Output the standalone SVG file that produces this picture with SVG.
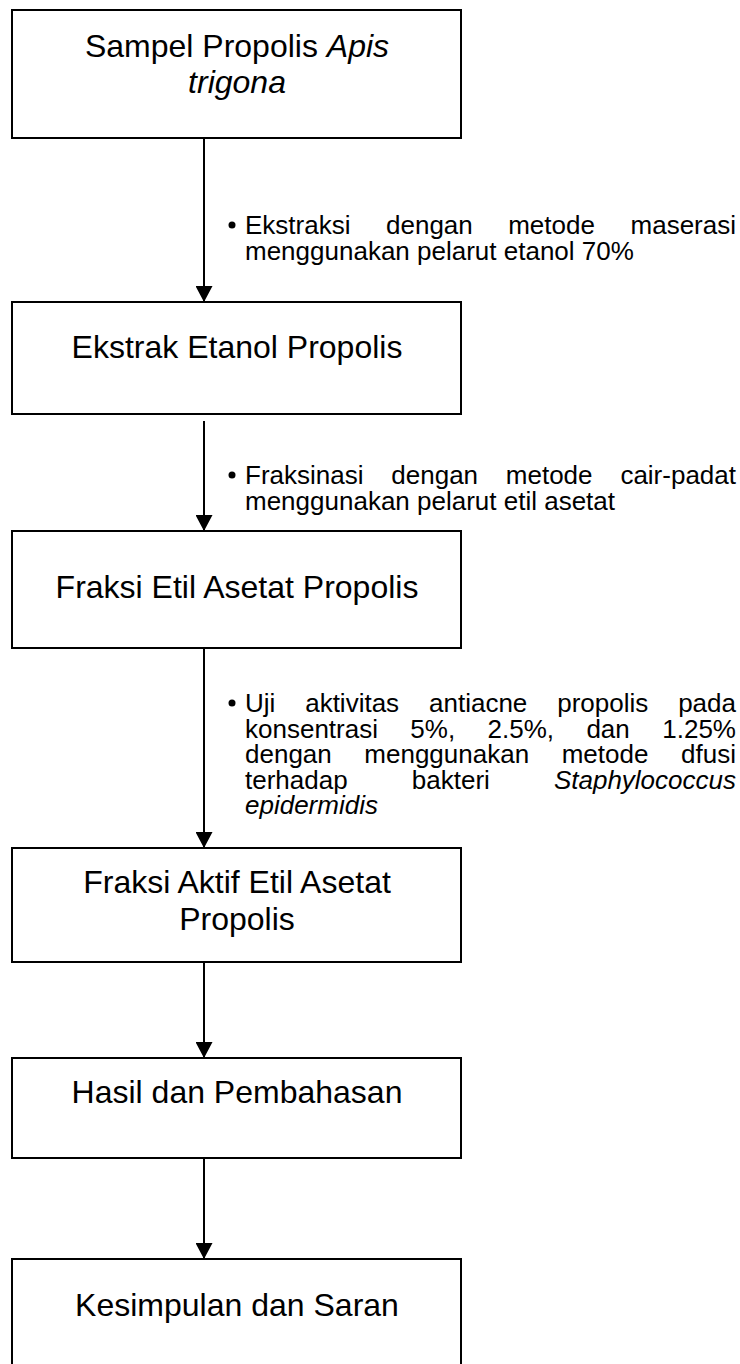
<svg xmlns="http://www.w3.org/2000/svg" width="740" height="1364" viewBox="0 0 740 1364">
<style>
.box{fill:#fff;stroke:#000;stroke-width:2}
.main{font-family:"Liberation Sans",Arial,sans-serif;font-size:32px;fill:#000;text-anchor:middle}
.note{font-family:"Liberation Sans",Arial,sans-serif;font-size:26px;fill:#000}
.it{font-style:italic}
.conn{stroke:#000;stroke-width:2;fill:none}
</style>
<defs>
<marker id="ah" viewBox="0 0 16 17" refX="16" refY="8.5" markerWidth="16" markerHeight="17" markerUnits="userSpaceOnUse" orient="auto">
<path d="M0,0 L16,8.5 L0,17 z" fill="#000"/>
</marker>
</defs>
<rect width="740" height="1364" fill="#fff"/>

<g id="connectors">
<line class="conn" x1="204" y1="138" x2="204" y2="302" marker-end="url(#ah)"/>
<line class="conn" x1="204" y1="421" x2="204" y2="531" marker-end="url(#ah)"/>
<line class="conn" x1="204" y1="648" x2="204" y2="848" marker-end="url(#ah)"/>
<line class="conn" x1="204" y1="962" x2="204" y2="1058" marker-end="url(#ah)"/>
<line class="conn" x1="204" y1="1158" x2="204" y2="1259" marker-end="url(#ah)"/>
</g>

<g id="node1">
<rect class="box" x="12" y="10" width="449" height="128"/>
<text class="main" x="237" y="57">Sampel Propolis <tspan class="it">Apis</tspan></text>
<text class="main it" x="237" y="93">trigona</text>
</g>

<g id="note1">
<circle cx="232" cy="225" r="3.5" fill="#000"/>
<text class="note" y="234"><tspan x="245">Ekstraksi</tspan><tspan x="386">dengan</tspan><tspan x="508.2">metode</tspan><tspan x="736" text-anchor="end">maserasi</tspan></text>
<text class="note" x="245" y="260">menggunakan pelarut etanol 70%</text>
</g>

<g id="node2">
<rect class="box" x="12" y="302" width="449" height="112"/>
<text class="main" x="237" y="358">Ekstrak Etanol Propolis</text>
</g>

<g id="note2">
<circle cx="232" cy="475" r="3.5" fill="#000"/>
<text class="note" y="484"><tspan x="245">Fraksinasi</tspan><tspan x="391.3">dengan</tspan><tspan x="505.8">metode</tspan><tspan x="736" text-anchor="end">cair-padat</tspan></text>
<text class="note" x="245" y="510">menggunakan pelarut etil asetat</text>
</g>

<g id="node3">
<rect class="box" x="12" y="531" width="449" height="117"/>
<text class="main" x="237" y="598">Fraksi Etil Asetat Propolis</text>
</g>

<g id="note3">
<circle cx="232" cy="703" r="3.5" fill="#000"/>
<text class="note" y="712"><tspan x="245">Uji</tspan><tspan x="305.2">aktivitas</tspan><tspan x="429">antiacne</tspan><tspan x="557.2">propolis</tspan><tspan x="736" text-anchor="end">pada</tspan></text>
<text class="note" y="737.5"><tspan x="245">konsentrasi</tspan><tspan x="410.3">5%,</tspan><tspan x="487.5">2.5%,</tspan><tspan x="586.4">dan</tspan><tspan x="736" text-anchor="end">1.25%</tspan></text>
<text class="note" y="763"><tspan x="245">dengan</tspan><tspan x="364.3">menggunakan</tspan><tspan x="561.7">metode</tspan><tspan x="736" text-anchor="end">dfusi</tspan></text>
<text class="note" y="788.5"><tspan x="245">terhadap</tspan><tspan x="411.8">bakteri</tspan><tspan x="736" text-anchor="end" class="it">Staphylococcus</tspan></text>
<text class="note it" x="245" y="814">epidermidis</text>
</g>

<g id="node4">
<rect class="box" x="12" y="848" width="449" height="114"/>
<text class="main" x="237" y="893">Fraksi Aktif Etil Asetat</text>
<text class="main" x="237" y="930">Propolis</text>
</g>

<g id="node5">
<rect class="box" x="12" y="1058" width="449" height="100"/>
<text class="main" x="237" y="1103">Hasil dan Pembahasan</text>
</g>

<g id="node6">
<rect class="box" x="12" y="1259" width="449" height="130"/>
<text class="main" x="237" y="1316">Kesimpulan dan Saran</text>
</g>
</svg>
